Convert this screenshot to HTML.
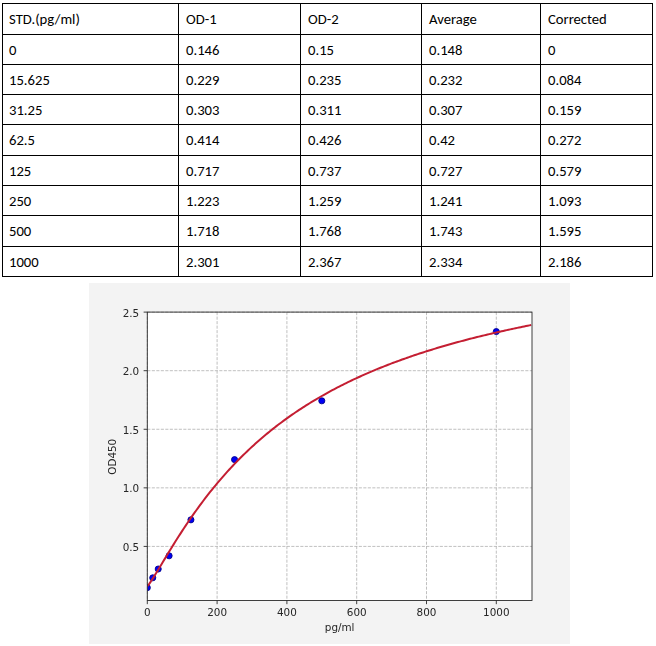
<!DOCTYPE html>
<html><head><meta charset="utf-8"><title>Standard curve</title>
<style>
html,body{margin:0;padding:0;background:#fff;}
body{width:656px;height:646px;position:relative;overflow:hidden;}
table{position:absolute;left:2px;top:3px;border-collapse:separate;border-spacing:0;
 border-left:1px solid #000;border-top:1px solid #000;table-layout:fixed;
 font-family:Carlito,"Liberation Sans",sans-serif;font-size:14.67px;color:#000;}
td{box-sizing:border-box;border-right:1px solid #000;border-bottom:1px solid #000;
 padding:0 0 0 7px;vertical-align:middle;white-space:nowrap;line-height:18px;}
td:first-child{padding-left:6px;}
svg{position:absolute;left:0;top:0;will-change:transform;}
svg text{font-family:"DejaVu Sans",sans-serif;font-size:10.4px;fill:#262626;}
</style></head><body>
<table>
<colgroup>
<col style="width:176px">
<col style="width:122px">
<col style="width:121px">
<col style="width:119px">
<col style="width:112px">
</colgroup>
<tr style="height:31px"><td>STD.(pg/ml)</td><td>OD-1</td><td>OD-2</td><td>Average</td><td>Corrected</td></tr>
<tr style="height:30px"><td>0</td><td>0.146</td><td>0.15</td><td>0.148</td><td>0</td></tr>
<tr style="height:30px"><td>15.625</td><td>0.229</td><td>0.235</td><td>0.232</td><td>0.084</td></tr>
<tr style="height:30px"><td>31.25</td><td>0.303</td><td>0.311</td><td>0.307</td><td>0.159</td></tr>
<tr style="height:31px"><td>62.5</td><td>0.414</td><td>0.426</td><td>0.42</td><td>0.272</td></tr>
<tr style="height:30px"><td>125</td><td>0.717</td><td>0.737</td><td>0.727</td><td>0.579</td></tr>
<tr style="height:30px"><td>250</td><td>1.223</td><td>1.259</td><td>1.241</td><td>1.093</td></tr>
<tr style="height:31px"><td>500</td><td>1.718</td><td>1.768</td><td>1.743</td><td>1.595</td></tr>
<tr style="height:30px"><td>1000</td><td>2.301</td><td>2.367</td><td>2.334</td><td>2.186</td></tr>
</table>
<svg width="656" height="646" viewBox="0 0 656 646">
<defs><clipPath id="ax"><rect x="147.30" y="312.10" width="384.70" height="288.40"/></clipPath></defs>
<rect x="89" y="283" width="481" height="361" fill="#f3f3f3"/>
<rect x="147.3" y="312.1" width="384.70" height="288.40" fill="#fff"/>
<g stroke="#b0b0b0" stroke-width="0.8" stroke-dasharray="3.1 1.4" fill="none"><line x1="147.30" y1="312.1" x2="147.30" y2="600.5"/><line x1="217.10" y1="312.1" x2="217.10" y2="600.5"/><line x1="286.90" y1="312.1" x2="286.90" y2="600.5"/><line x1="356.70" y1="312.1" x2="356.70" y2="600.5"/><line x1="426.50" y1="312.1" x2="426.50" y2="600.5"/><line x1="496.30" y1="312.1" x2="496.30" y2="600.5"/><line x1="147.3" y1="546.42" x2="532.0" y2="546.42"/><line x1="147.3" y1="487.85" x2="532.0" y2="487.85"/><line x1="147.3" y1="429.27" x2="532.0" y2="429.27"/><line x1="147.3" y1="370.70" x2="532.0" y2="370.70"/><line x1="147.3" y1="312.12" x2="532.0" y2="312.12"/></g>
<g clip-path="url(#ax)">
<g fill="#0000f5" stroke="#00008c" stroke-width="0.9"><circle cx="147.30" cy="587.66" r="3.05"/><circle cx="152.75" cy="577.82" r="3.05"/><circle cx="158.21" cy="569.03" r="3.05"/><circle cx="169.11" cy="555.80" r="3.05"/><circle cx="190.93" cy="519.83" r="3.05"/><circle cx="234.55" cy="459.62" r="3.05"/><circle cx="321.80" cy="400.81" r="3.05"/><circle cx="496.30" cy="331.57" r="3.05"/></g>
<polyline points="147.30,586.16 149.05,584.07 150.79,581.56 152.54,578.89 154.28,576.13 156.03,573.31 157.77,570.45 159.52,567.56 161.26,564.67 163.00,561.77 164.75,558.88 166.50,555.99 168.24,553.12 169.99,550.27 171.73,547.43 173.48,544.62 175.22,541.82 176.97,539.06 178.71,536.32 180.46,533.60 182.20,530.91 183.94,528.26 185.69,525.63 187.44,523.03 189.18,520.46 190.93,517.92 192.67,515.41 194.42,512.93 196.16,510.49 197.91,508.07 199.65,505.68 201.40,503.32 203.14,500.99 204.88,498.70 206.63,496.43 208.38,494.19 210.12,491.98 211.87,489.80 213.61,487.64 215.36,485.52 217.10,483.42 218.85,481.35 220.59,479.31 222.34,477.29 224.08,475.30 225.82,473.33 227.57,471.40 229.31,469.48 231.06,467.60 232.81,465.73 234.55,463.89 236.30,462.08 238.04,460.29 239.79,458.52 241.53,456.77 243.28,455.05 245.02,453.35 246.76,451.67 248.51,450.01 250.25,448.38 252.00,446.76 253.75,445.17 255.49,443.59 257.24,442.04 258.98,440.50 260.73,438.99 262.47,437.49 264.22,436.01 265.96,434.55 267.70,433.11 269.45,431.69 271.19,430.28 272.94,428.89 274.69,427.52 276.43,426.16 278.18,424.82 279.92,423.50 281.66,422.19 283.41,420.90 285.15,419.63 286.90,418.36 288.64,417.12 290.39,415.89 292.13,414.67 293.88,413.47 295.62,412.28 297.37,411.11 299.12,409.94 300.86,408.80 302.61,407.66 304.35,406.54 306.10,405.43 307.84,404.34 309.59,403.25 311.33,402.18 313.07,401.12 314.82,400.08 316.56,399.04 318.31,398.01 320.06,397.00 321.80,396.00 323.54,395.01 325.29,394.03 327.03,393.06 328.78,392.10 330.52,391.15 332.27,390.21 334.01,389.28 335.76,388.37 337.50,387.46 339.25,386.56 341.00,385.67 342.74,384.79 344.49,383.92 346.23,383.05 347.98,382.20 349.72,381.36 351.47,380.52 353.21,379.69 354.95,378.87 356.70,378.06 358.44,377.26 360.19,376.47 361.94,375.68 363.68,374.90 365.42,374.13 367.17,373.37 368.91,372.61 370.66,371.86 372.40,371.12 374.15,370.39 375.89,369.66 377.64,368.94 379.38,368.23 381.13,367.53 382.88,366.83 384.62,366.13 386.37,365.45 388.11,364.77 389.86,364.10 391.60,363.43 393.35,362.77 395.09,362.12 396.84,361.47 398.58,360.83 400.32,360.19 402.07,359.56 403.81,358.94 405.56,358.32 407.31,357.70 409.05,357.10 410.80,356.49 412.54,355.90 414.28,355.31 416.03,354.72 417.77,354.14 419.52,353.56 421.26,352.99 423.01,352.43 424.75,351.86 426.50,351.31 428.25,350.76 429.99,350.21 431.74,349.67 433.48,349.13 435.22,348.60 436.97,348.07 438.71,347.55 440.46,347.03 442.20,346.52 443.95,346.01 445.69,345.50 447.44,345.00 449.19,344.50 450.93,344.01 452.68,343.52 454.42,343.03 456.16,342.55 457.91,342.07 459.65,341.60 461.40,341.13 463.14,340.66 464.89,340.20 466.63,339.74 468.38,339.29 470.12,338.84 471.87,338.39 473.62,337.95 475.36,337.51 477.10,337.07 478.85,336.63 480.59,336.20 482.34,335.78 484.08,335.35 485.83,334.93 487.57,334.52 489.32,334.10 491.06,333.69 492.81,333.28 494.56,332.88 496.30,332.48 498.05,332.08 499.79,331.69 501.53,331.29 503.28,330.90 505.02,330.52 506.77,330.13 508.51,329.75 510.26,329.37 512.00,329.00 513.75,328.63 515.50,328.26 517.24,327.89 518.99,327.53 520.73,327.16 522.47,326.81 524.22,326.45 525.96,326.10 527.71,325.74 529.45,325.39 531.20,325.05" fill="none" stroke="#c41e32" stroke-width="2.0" stroke-linejoin="round"/>
</g>
<rect x="147.3" y="312.1" width="384.70" height="288.40" fill="none" stroke="#2a2a2a" stroke-width="0.9"/>
<g stroke="#2a2a2a" stroke-width="0.9"><line x1="147.30" y1="600.5" x2="147.30" y2="604.16"/><line x1="217.10" y1="600.5" x2="217.10" y2="604.16"/><line x1="286.90" y1="600.5" x2="286.90" y2="604.16"/><line x1="356.70" y1="600.5" x2="356.70" y2="604.16"/><line x1="426.50" y1="600.5" x2="426.50" y2="604.16"/><line x1="496.30" y1="600.5" x2="496.30" y2="604.16"/><line x1="143.64" y1="546.42" x2="147.3" y2="546.42"/><line x1="143.64" y1="487.85" x2="147.3" y2="487.85"/><line x1="143.64" y1="429.27" x2="147.3" y2="429.27"/><line x1="143.64" y1="370.70" x2="147.3" y2="370.70"/><line x1="143.64" y1="312.12" x2="147.3" y2="312.12"/></g>
<text x="147.30" y="616.3" text-anchor="middle">0</text>
<text x="217.10" y="616.3" text-anchor="middle">200</text>
<text x="286.90" y="616.3" text-anchor="middle">400</text>
<text x="356.70" y="616.3" text-anchor="middle">600</text>
<text x="426.50" y="616.3" text-anchor="middle">800</text>
<text x="496.30" y="616.3" text-anchor="middle">1000</text>
<text x="139.2" y="550.92" text-anchor="end">0.5</text>
<text x="139.2" y="492.35" text-anchor="end">1.0</text>
<text x="139.2" y="433.77" text-anchor="end">1.5</text>
<text x="139.2" y="375.20" text-anchor="end">2.0</text>
<text x="139.2" y="316.62" text-anchor="end">2.5</text>
<text x="339.65" y="631.3" text-anchor="middle">pg/ml</text>
<text transform="translate(116.2 456.80) rotate(-90)" text-anchor="middle">OD450</text>
</svg>
</body></html>
